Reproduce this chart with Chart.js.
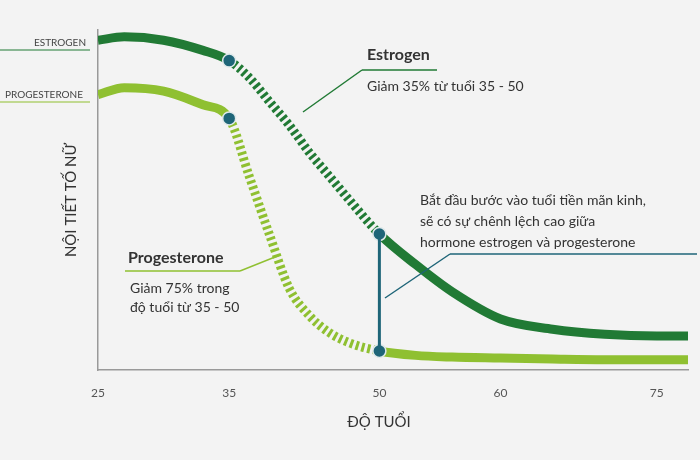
<!DOCTYPE html>
<html><head><meta charset="utf-8">
<script src="https://cdn.jsdelivr.net/npm/chart.js@4/dist/chart.umd.min.js"></script>
<style>body{margin:0;background:#f3f3f3}#wrap{width:700px;height:460px}</style>
</head><body><div id="wrap"><canvas id="c"></canvas></div>
<script>
// axis stops are not evenly spaced in the original
const tickAges = [25, 35, 50, 60, 75];
const tickPos = [0, 131, 281, 402, 558];

const ages = [25, 27, 30, 33, 35, 37, 39, 41, 43, 45, 47, 50, 53, 56, 60, 65, 70, 75, 78];
const estrogen = [97, 98, 97, 94, 91, 86, 79, 72, 64, 57, 50, 40, 31, 23, 15, 12, 10.5, 10, 10];
const progesterone = [81, 83, 82, 78, 74, 57, 40, 24, 16, 11, 8, 5.6, 4.3, 3.8, 3.5, 3.2, 3, 3, 3];

function agePos(a) {
    for (let i = 0; i < tickAges.length - 1; i++) {
        const a0 = tickAges[i], a1 = tickAges[i + 1];
        if (a <= a1 || i == tickAges.length - 2)
            return tickPos[i] + (a - a0) / (a1 - a0) * (tickPos[i + 1] - tickPos[i]);
    }
}
const pts = vals => ages.map((a, i) => ({x: agePos(a), y: vals[i]}));
const valAt = (vals, a) => vals[ages.indexOf(a)];
const p35 = agePos(35), p50 = agePos(50);

const dashSeg = ctx => (ctx.p0.parsed.x >= p35 - 0.1 && ctx.p1.parsed.x <= p50 + 0.1) ? [3, 3] : undefined;

const textPlugin = {
    id: "texts",
    afterDraw(chart) {
        const c = chart.ctx;
        c.save();
        const line = (x1, y1, x2, y2, col, w) => {
            c.strokeStyle = col; c.lineWidth = w || 1.5;
            c.beginPath(); c.moveTo(x1, y1); c.lineTo(x2, y2); c.stroke();
        };
        const txt = (s, x, y, font, col) => {
            c.font = font; c.fillStyle = col || "#333"; c.textBaseline = "alphabetic"; c.fillText(s, x, y);
        };
        // left labels
        txt("ESTROGEN", 34, 46, "10px Lato", "#444");
        line(0, 50, 90, 50, "#217a35", 1.2);
        txt("PROGESTERONE", 5, 98, "10px Lato", "#444");
        line(0, 102, 90, 102, "#8fc031", 1.2);
        // axis titles
        c.save();
        c.translate(76, 200); c.rotate(-Math.PI / 2);
        c.textAlign = "center";
        txt("NỘI TIẾT TỐ NỮ", 0, 0, "15px Lato", "#333");
        c.restore();
        c.textAlign = "center";
        txt("ĐỘ TUỔI", 379, 427, "15px Lato", "#333");
        c.textAlign = "left";
        // estrogen note
        txt("Estrogen", 367, 60, "bold 16px Lato");
        line(362, 70, 437, 70, "#217a35");
        line(362, 70, 303, 112, "#217a35");
        txt("Giảm 35% từ tuổi 35 - 50", 367, 91, "14px Lato");
        // progesterone note
        txt("Progesterone", 128, 263, "bold 16px Lato");
        line(125, 271, 240, 271, "#8fc031");
        line(240, 271, 280, 255, "#8fc031");
        txt("Giảm 75% trong", 130, 293, "14px Lato");
        txt("độ tuổi từ 35 - 50", 130, 312, "14px Lato");
        // gap note
        txt("Bắt đầu bước vào tuổi tiền mãn kinh,", 420, 205, "14px Lato");
        txt("sẽ có sự chênh lệch cao giữa", 420, 226, "14px Lato");
        txt("hormone estrogen và progesterone", 420, 247, "14px Lato");
        line(450, 254, 697, 254, "#1e6578");
        line(450, 254, 385, 298, "#1e6578");
        c.restore();
    }
};

new Chart(document.getElementById("c"), {
    type: "line",
    data: {
        datasets: [
            {data: [{x: p50, y: valAt(progesterone, 50)}, {x: p50, y: valAt(estrogen, 50)}],
             borderColor: "#1e6578", borderWidth: 3, pointRadius: 0},
            {data: [{x: p35, y: valAt(estrogen, 35)}, {x: p50, y: valAt(estrogen, 50)},
                    {x: p35, y: valAt(progesterone, 35)}, {x: p50, y: valAt(progesterone, 50)}],
             showLine: false, pointRadius: 6.5, backgroundColor: "#1e6578",
             pointBorderColor: "#dfe9ea", pointBorderWidth: 1.5},
            {data: pts(estrogen), borderColor: "#217a35", borderWidth: 9, pointRadius: 0,
             cubicInterpolationMode: "monotone", borderCapStyle: "butt", segment: {borderDash: dashSeg}},
            {data: pts(progesterone), borderColor: "#8fc031", borderWidth: 9, pointRadius: 0,
             cubicInterpolationMode: "monotone", borderCapStyle: "butt", segment: {borderDash: dashSeg}}
        ]
    },
    options: {
        animation: false,
        responsive: true,
        maintainAspectRatio: false,
        layout: {padding: {left: 10, right: 12, top: 30, bottom: 0}},
        plugins: {legend: {display: false}, tooltip: {enabled: false}},
        scales: {
            x: {
                type: "linear", min: 0, max: agePos(78),
                afterBuildTicks: s => { s.ticks = tickPos.map(v => ({value: v})); },
                ticks: {callback: (v) => tickAges[tickPos.indexOf(v)], color: "#555",
                        font: {family: "Lato", size: 12}, padding: 16},
                grid: {display: false, drawTicks: false},
                border: {color: "#999", width: 1.5},
                afterFit: s => { s.height = 90; }
            },
            y: {
                min: 0, max: 100,
                ticks: {display: false},
                grid: {display: false, drawTicks: false},
                border: {color: "#999", width: 1.5},
                afterFit: s => { s.width = 88; }
            }
        }
    },
    plugins: [textPlugin]
});
</script></body></html>
